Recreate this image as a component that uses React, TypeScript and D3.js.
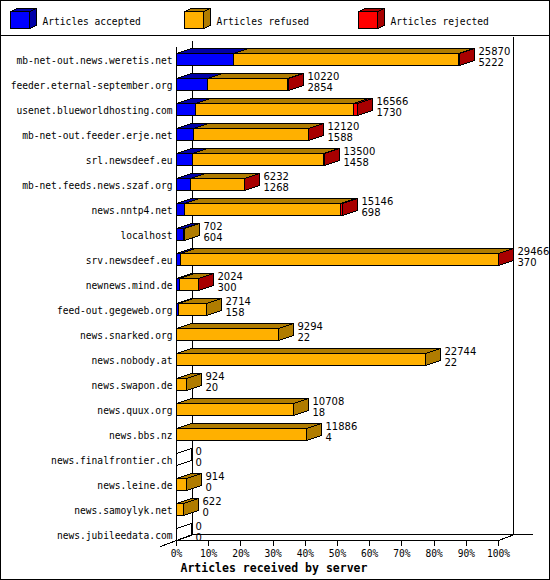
import React from 'react';
import * as d3 from 'd3';

// servers, top to bottom
const servers = [
  'mb-net-out.news.weretis.net',
  'feeder.eternal-september.org',
  'usenet.blueworldhosting.com',
  'mb-net-out.feeder.erje.net',
  'srl.newsdeef.eu',
  'mb-net.feeds.news.szaf.org',
  'news.nntp4.net',
  'localhost',
  'srv.newsdeef.eu',
  'newnews.mind.de',
  'feed-out.gegeweb.org',
  'news.snarked.org',
  'news.nobody.at',
  'news.swapon.de',
  'news.quux.org',
  'news.bbs.nz',
  'news.finalfrontier.ch',
  'news.leine.de',
  'news.samoylyk.net',
  'news.jubileedata.com',
];

const received = [25870, 10220, 16566, 12120, 13500, 6232, 15146, 702, 29466, 2024, 2714, 9294, 22744, 924, 10708, 11886, 0, 914, 622, 0];
const accepted = [5222, 2854, 1730, 1588, 1458, 1268, 698, 604, 370, 300, 158, 22, 22, 20, 18, 4, 0, 0, 0, 0];
// rejected is not printed; estimated from the red parts of the bars
const rejected = [60, 40, 400, 40, 40, 40, 150, 0, 40, 30, 0, 0, 0, 0, 0, 0, 0, 0, 0, 0];

const percentTicks = [0, 10, 20, 30, 40, 50, 60, 70, 80, 90, 100];

const legendItems = ['Articles accepted', 'Articles refused', 'Articles rejected'];
const legendX = [10, 184, 358];

const W = 550;
const H = 580;
const DX = 15; // bar depth
const DY = 5;
const WX = 16; // wall depth
const WY = 6;
const FLOOR = 540;
const TOP = 46;
const CHAR = 5.78; // width of one character of the small fixed font

const faceColors = [
  ['#0000ff', '#0000a8'],
  ['#ffb000', '#b07c00'],
  ['#ff0000', '#a80000'],
];

const mono = "'DejaVu Sans Mono', monospace";
const sans = "'DejaVu Sans', sans-serif";

const pts = (p: number[][]) => p.map(d => d.join(',')).join(' ');

// small fixed-width text, squeezed to the cell width of the original font
const Mono: React.FC<{ x: number; y: number; anchor?: string; children: string }> = ({ x, y, anchor, children }) => (
  <text
    x={x}
    y={y}
    textAnchor={anchor || 'start'}
    fontFamily={mono}
    fontSize={10.4}
    textLength={children.length * CHAR}
    lengthAdjust="spacingAndGlyphs"
    fill="#000"
  >
    {children}
  </text>
);

const App: React.FC = () => {
  const x = d3.scaleLinear().domain([0, d3.max(received) as number]).range([176, 498]);
  const xp = d3.scaleLinear().domain([0, 100]).range([176, 498]);
  const y = d3.scalePoint<string>().domain(servers).range([59, 534]);

  const bars = servers.map((name, i) => {
    const refused = received[i] - accepted[i] - rejected[i];
    const vals = [accepted[i], refused, rejected[i]];
    const cy = y(name) as number;
    const top = cy - 6;
    const bot = cy + 6;
    let cum = 0;
    const segs = vals.map((v, k) => {
      const x0 = Math.round(x(cum));
      cum += v;
      const x1 = Math.round(x(cum));
      return { k, v, x0, x1 };
    });
    const live = segs.filter(s => s.v > 0);
    const last = live[live.length - 1];
    return { name, i, cy, top, bot, live, last };
  });

  return (
    <svg
      width={W}
      height={H}
      style={{ position: 'absolute', left: 0, top: 0, background: '#fff' }}
      shapeRendering="crispEdges"
    >
      <g transform="translate(0.5,0.5)">
        <rect x={0} y={0} width={W - 1} height={H - 1} fill="#fff" stroke="#000" />
        <line x1={0} x2={W} y1={35} y2={35} stroke="#000" />

        {/* legend */}
        {legendItems.map((t, k) => {
          const lx = legendX[k];
          return (
            <g key={t}>
              <polygon points={pts([[lx, 11], [lx + 7, 8], [lx + 26, 8], [lx + 19, 11]])} fill={faceColors[k][1]} stroke="#000" />
              <polygon points={pts([[lx + 19, 11], [lx + 26, 8], [lx + 26, 25], [lx + 19, 28]])} fill={faceColors[k][1]} stroke="#000" />
              <rect x={lx} y={11} width={19} height={17} fill={faceColors[k][0]} stroke="#000" />
              <Mono x={lx + 32} y={24}>{t}</Mono>
            </g>
          );
        })}

        {/* walls and floor */}
        <line x1={176 + WX} x2={176 + WX} y1={TOP - WY} y2={FLOOR - WY} stroke="#000" />
        <line x1={176} x2={176} y1={TOP} y2={FLOOR} stroke="#000" />
        <line x1={498 + WX - 1} x2={498 + WX - 1} y1={36} y2={FLOOR - WY} stroke="#000" />
        <line x1={176 + WX} x2={532} y1={FLOOR - WY} y2={FLOOR - WY} stroke="#000" />
        <line x1={176} x2={498} y1={FLOOR} y2={FLOOR} stroke="#000" />
        <line x1={160} y1={FLOOR + 6} x2={176 + WX} y2={FLOOR - WY} stroke="#000" />
        <line x1={498} y1={FLOOR} x2={498 + WX} y2={FLOOR - WY} stroke="#000" />
        {percentTicks.map(p => (
          <g key={p}>
            <line x1={Math.round(xp(p))} x2={Math.round(xp(p))} y1={FLOOR} y2={FLOOR + 5} stroke="#000" />
            <Mono x={xp(p)} y={556} anchor="middle">{`${p}%`}</Mono>
          </g>
        ))}

        {/* bars */}
        {bars.map(b => (
          <g key={b.name}>
            <Mono x={172} y={b.cy + 4} anchor="end">{b.name}</Mono>
            {b.live.length === 0 ? (
              <polygon
                points={pts([[176, b.top], [176 + DX, b.top - DY], [176 + DX, b.bot - DY], [176, b.bot]])}
                fill="none"
                stroke="#000"
              />
            ) : (
              b.live.map(s => (
                <g key={s.k}>
                  <polygon
                    points={pts([[s.x0, b.top], [s.x0 + DX, b.top - DY], [s.x1 + DX, b.top - DY], [s.x1, b.top]])}
                    fill={faceColors[s.k][1]}
                    stroke="#000"
                  />
                  <rect x={s.x0} y={b.top} width={s.x1 - s.x0} height={b.bot - b.top} fill={faceColors[s.k][0]} stroke="#000" />
                  {s === b.last && (
                    <polygon
                      points={pts([[s.x1, b.top], [s.x1 + DX, b.top - DY], [s.x1 + DX, b.bot - DY], [s.x1, b.bot]])}
                      fill={faceColors[s.k][1]}
                      stroke="#000"
                    />
                  )}
                </g>
              ))
            )}
            <text x={Math.round(x(received[b.i])) + DX + 4} y={b.cy - 5} fontFamily={sans} fontSize={10} fill="#000">{received[b.i]}</text>
            <text x={Math.round(x(received[b.i])) + DX + 4} y={b.cy + 6} fontFamily={sans} fontSize={10} fill="#000">{accepted[b.i]}</text>
          </g>
        ))}

        <text x={180} y={571} fontFamily={mono} fontWeight="bold" fontSize={11.5} fill="#000">Articles received by server</text>
      </g>
    </svg>
  );
};

export default App;
